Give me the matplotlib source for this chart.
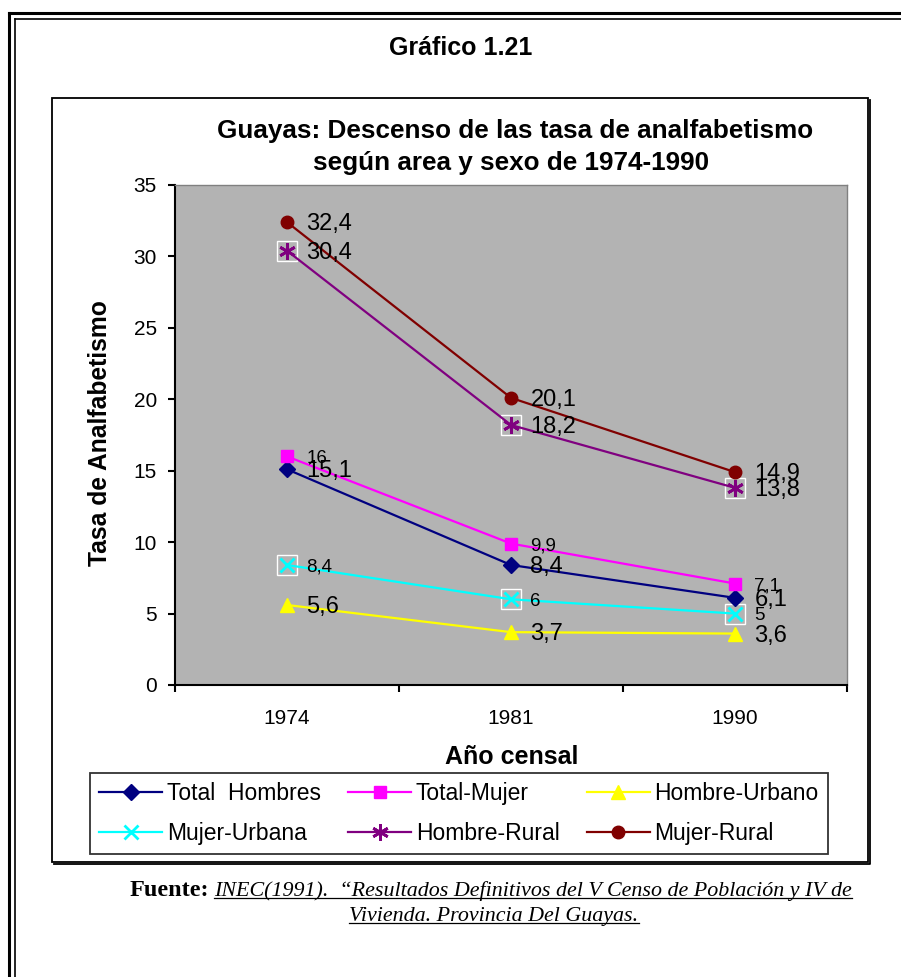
import matplotlib
matplotlib.use("Agg")
import matplotlib.pyplot as plt
from matplotlib.lines import Line2D
from matplotlib.patches import Rectangle

plt.rcParams['font.family'] = ['Liberation Sans', 'DejaVu Sans']

# ── Data ───────────────────────────────────────────────────────────────────
years = ["1974", "1981", "1990"]
series_names = ["Total  Hombres", "Total-Mujer", "Hombre-Urbano",
                "Mujer-Urbana", "Hombre-Rural", "Mujer-Rural"]
total_hombres = [15.1, 8.4, 6.1]
total_mujer = [16, 9.9, 7.1]
hombre_urbano = [5.6, 3.7, 3.6]
mujer_urbana = [8.4, 6, 5]
hombre_rural = [30.4, 18.2, 13.8]
mujer_rural = [32.4, 20.1, 14.9]
series_values = [total_hombres, total_mujer, hombre_urbano,
                 mujer_urbana, hombre_rural, mujer_rural]

# ── Styles ─────────────────────────────────────────────────────────────────
colors = ["#000080", "#FF00FF", "#FFFF00", "#00FFFF", "#800080", "#800000"]
markers = ["D", "s", "^", "x", (6, 2, 0), "o"]
msizes = [8, 9, 10, 10, 12, 9]
boxed = [False, False, False, True, True, False]
label_fs = [17, 13.5, 17, 13.5, 17, 17]

W, H = 901, 977
def fx(px):
    return px / W
def fy(py):
    return 1 - py / H

fig = plt.figure(figsize=(W / 100, H / 100), dpi=100)

# outer double frame (page border)
for off, lw in [(9, 2.2), (15, 1.2)]:
    fig.add_artist(Line2D([fx(off), 1.01], [fy(off + 4), fy(off + 4)],
                          transform=fig.transFigure, color="black", lw=lw))
    fig.add_artist(Line2D([fx(off), fx(off)], [fy(off + 4), -0.01],
                          transform=fig.transFigure, color="black", lw=lw))

# chart area box with shadow
fig.add_artist(Rectangle((fx(52), fy(862)), fx(868) - fx(52), fy(98) - fy(862),
                         transform=fig.transFigure, fill=False,
                         edgecolor="black", lw=1.3))
fig.add_artist(Line2D([fx(869.5), fx(869.5), fx(54)], [fy(100), fy(863.5), fy(863.5)],
                      transform=fig.transFigure, color="black", lw=1.3))

fig.text(fx(461), fy(48), "Gráfico 1.21", ha="center", va="center",
         fontsize=18, fontweight="bold")
fig.text(fx(515), fy(131), "Guayas: Descenso de las tasa de analfabetismo",
         ha="center", va="center", fontsize=18.8, fontweight="bold")
fig.text(fx(511), fy(163), "según area y sexo de 1974-1990",
         ha="center", va="center", fontsize=18.8, fontweight="bold")

# ── Plot area ──────────────────────────────────────────────────────────────
ax = fig.add_axes([fx(175), fy(685), (847 - 175) / W, (685 - 185) / H])
ax.set_facecolor("#B3B3B3")
for s in ["top", "right"]:
    ax.spines[s].set_color("#808080")
    ax.spines[s].set_linewidth(1)
for s in ["left", "bottom"]:
    ax.spines[s].set_color("black")
    ax.spines[s].set_linewidth(1.5)

x = list(range(len(years)))
handles = []
for vals, name, c, m, ms, bx, fs in zip(series_values, series_names, colors,
                                         markers, msizes, boxed, label_fs):
    mew = 2 if m in ("x", (6, 2, 0)) else 1
    ln, = ax.plot(x, vals, color=c, lw=1.6, marker=m, markersize=ms,
                  markerfacecolor=c, markeredgecolor=c, markeredgewidth=mew,
                  label=name, zorder=3)
    handles.append(ln)
    if bx:
        ax.plot(x, vals, ls="none", marker="s", markersize=14,
                markerfacecolor="none", markeredgecolor="white",
                markeredgewidth=1, zorder=2.9)
    for xi, v in zip(x, vals):
        ax.annotate(f"{v:g}".replace(".", ","), (xi, v), xytext=(14, -1.5),
                    textcoords="offset points", ha="left", va="center",
                    fontsize=fs, color="black", zorder=4)

ax.set_xlim(-0.5, len(years) - 0.5)
ax.set_ylim(0, 35)
ax.set_yticks(range(0, 36, 5))
ax.set_xticks(x)
ax.set_xticklabels(years)
ax.set_xticks([i - 0.5 for i in range(len(years) + 1)], minor=True)
ax.tick_params(axis="y", direction="out", length=5, width=1.5, pad=8,
               labelsize=15)
ax.tick_params(axis="x", which="major", length=0, pad=17, labelsize=15)
ax.tick_params(axis="x", which="minor", direction="out", length=5, width=1.5)

fig.text(fx(100), fy(433), "Tasa de Analfabetismo", rotation=90,
         ha="center", va="center", fontsize=17.7, fontweight="bold")
fig.text(fx(512), fy(757), "Año censal", ha="center", va="center",
         fontsize=18, fontweight="bold")

# ── Legend (row-wise order like the original) ─────────────────────────────
order = [0, 3, 1, 4, 2, 5]
leg = fig.legend([handles[i] for i in order], [series_names[i] for i in order],
                 ncol=3, loc="upper left",
                 bbox_to_anchor=(fx(90), fy(773), fx(828) - fx(90), 0),
                 mode="expand", frameon=True, fancybox=False,
                 edgecolor="black", fontsize=16.5, handlelength=2.75,
                 handletextpad=0.2, borderaxespad=0, borderpad=0.4,
                 labelspacing=0.72)
leg.get_frame().set_linewidth(1.3)

# ── Source note ────────────────────────────────────────────────────────────
t1 = fig.text(fx(209), fy(891), "Fuente:", ha="right", va="center",
              family="Liberation Serif", fontweight="bold", fontsize=17.5)
t2 = fig.text(fx(214), fy(891),
              "INEC(1991).  \u201cResultados Definitivos del V Censo de Población y IV de",
              ha="left", va="center", family="Liberation Serif",
              style="italic", fontsize=15.8)
t3 = fig.text(fx(494), fy(916), "Vivienda. Provincia Del Guayas.",
              ha="center", va="center", family="Liberation Serif",
              style="italic", fontsize=15.8)

fig.canvas.draw()
r = fig.canvas.get_renderer()
for t in (t2, t3):
    bb = t.get_window_extent(r)
    yline = bb.y0 + 3
    fig.add_artist(Line2D([bb.x0 / W, bb.x1 / W], [yline / H, yline / H],
                          transform=fig.transFigure, color="black", lw=0.9))

fig.savefig("out.png", dpi=100)
